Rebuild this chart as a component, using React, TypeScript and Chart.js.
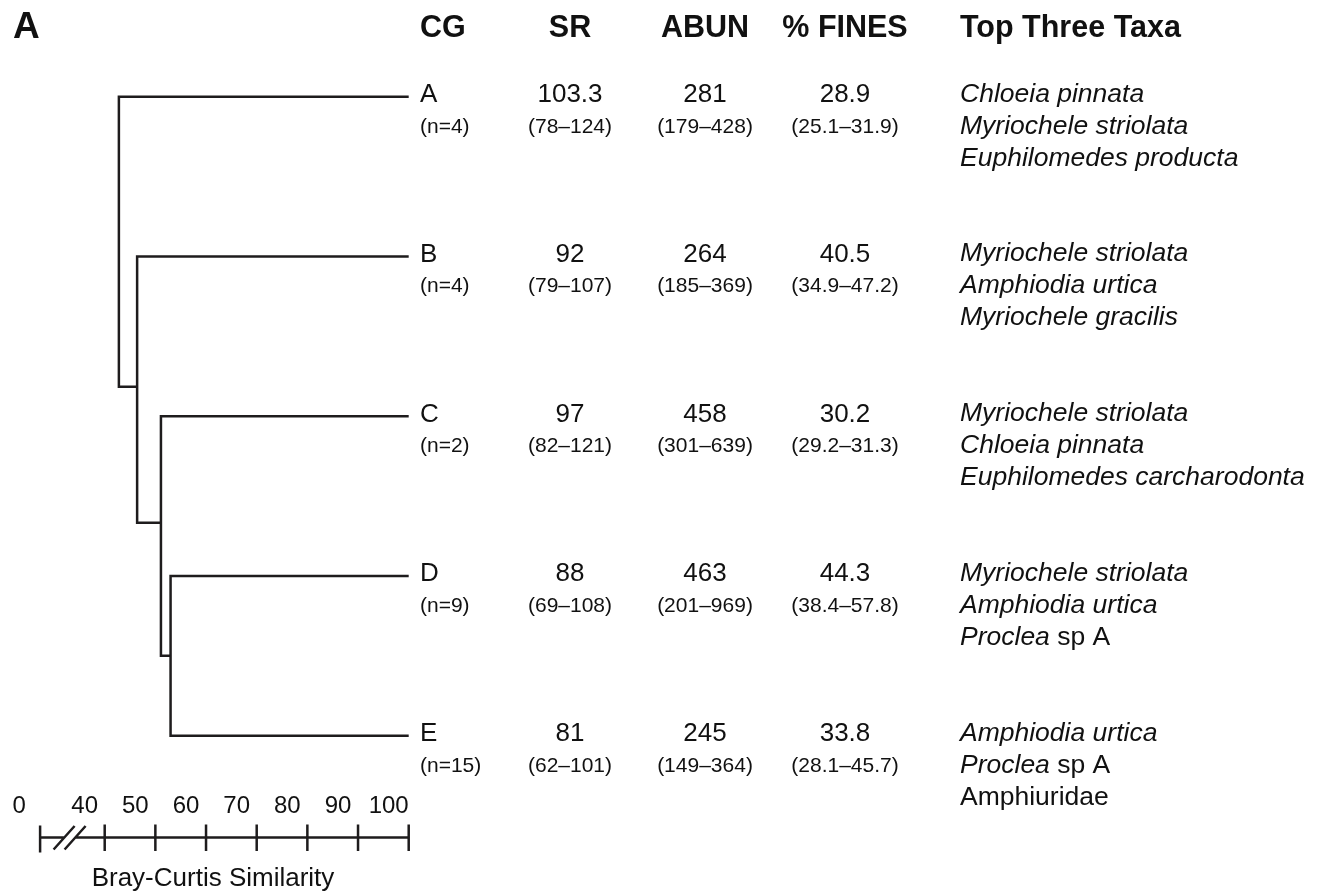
import { useEffect, useRef } from 'react';
import { Chart, registerables } from 'chart.js';

Chart.register(...registerables);

// ---- Cluster groups (CG) and their summary statistics ----
const groups = ['A', 'B', 'C', 'D', 'E'];
const groupSize = [4, 4, 2, 9, 15];

const srMean = [103.3, 92, 97, 88, 81];
const srMin = [78, 79, 82, 69, 62];
const srMax = [124, 107, 121, 108, 101];

const abunMean = [281, 264, 458, 463, 245];
const abunMin = [179, 185, 301, 201, 149];
const abunMax = [428, 369, 639, 969, 364];

const finesMean = [28.9, 40.5, 30.2, 44.3, 33.8];
const finesMin = [25.1, 34.9, 29.2, 38.4, 28.1];
const finesMax = [31.9, 47.2, 31.3, 57.8, 45.7];

// Each taxon is a list of [text, italic] pieces
type Piece = [string, boolean];
const topTaxa: Piece[][][] = [
  [[['Chloeia pinnata', true]], [['Myriochele striolata', true]], [['Euphilomedes producta', true]]],
  [[['Myriochele striolata', true]], [['Amphiodia urtica', true]], [['Myriochele gracilis', true]]],
  [[['Myriochele striolata', true]], [['Chloeia pinnata', true]], [['Euphilomedes carcharodonta', true]]],
  [[['Myriochele striolata', true]], [['Amphiodia urtica', true]], [['Proclea', true], [' sp A', false]]],
  [[['Amphiodia urtica', true]], [['Proclea', true], [' sp A', false]], [['Amphiuridae', false]]],
];

const headers = ['CG', 'SR', 'ABUN', '% FINES', 'Top Three Taxa'];

// ---- Dendrogram (Bray-Curtis similarity, %) ----
const mergeLeft = ['D', 'C', 'B', 'A'];
const mergeRight = ['E', 'DE', 'CDE', 'BCDE'];
const mergeSimilarity = [53.0, 51.1, 46.4, 42.8];
// row at which each merged branch is drawn (leaves sit on rows 0..4)
const mergeRow = [3.5, 2.667, 1.815, 1.0];

// ---- Similarity axis (broken between 0 and 40) ----
const axisTicks = [40, 50, 60, 70, 80, 90, 100];
const axisOriginLabel = '0';
const axisOriginPos = 27.25; // where the broken axis starts
const axisTitle = 'Bray-Curtis Similarity';

const FONT = '"Liberation Sans", Arial, Helvetica, sans-serif';
const INK = '#111111';
const LINE = '#1e1c1d';

type Node = { sim: number; row: number };

function buildNodes() {
  const nodes: Record<string, Node> = {};
  groups.forEach((g, i) => (nodes[g] = { sim: 100, row: i }));
  mergeLeft.forEach((l, i) => {
    const id = l + mergeRight[i];
    nodes[id] = { sim: mergeSimilarity[i], row: mergeRow[i] };
  });
  return nodes;
}

function buildDatasets() {
  const nodes = buildNodes();
  return mergeLeft.map((l, i) => {
    const a = nodes[l];
    const b = nodes[mergeRight[i]];
    const s = mergeSimilarity[i];
    return {
      label: l + mergeRight[i],
      data: [
        { x: a.sim, y: a.row },
        { x: s, y: a.row },
        { x: s, y: b.row },
        { x: b.sim, y: b.row },
      ],
      showLine: true,
      borderColor: LINE,
      borderWidth: 2.5,
      pointRadius: 0,
      tension: 0,
      clip: false as const,
      borderJoinStyle: 'miter' as const,
    };
  });
}

const tablePlugin = {
  id: 'clusterTable',
  afterDatasetsDraw(chart: any) {
    const ctx: CanvasRenderingContext2D = chart.ctx;
    const xs = chart.scales.x;
    const ys = chart.scales.y;
    ctx.save();
    ctx.fillStyle = INK;
    ctx.textBaseline = 'alphabetic';

    // panel letter
    ctx.font = `bold 37px ${FONT}`;
    ctx.textAlign = 'left';
    ctx.fillText('A', 13, 38);

    // column headers
    const colCG = 420;
    const colSR = 570;
    const colAB = 705;
    const colFN = 845;
    const colTX = 960;
    ctx.font = `bold 30.5px ${FONT}`;
    ctx.textAlign = 'left';
    ctx.fillText(headers[0], colCG, 37);
    ctx.textAlign = 'center';
    ctx.fillText(headers[1], colSR, 37);
    ctx.fillText(headers[2], colAB, 37);
    ctx.fillText(headers[3], colFN, 37);
    ctx.textAlign = 'left';
    ctx.fillText(headers[4], colTX, 37);

    groups.forEach((g, i) => {
      const y = ys.getPixelForValue(i);
      const y1 = y + 5.5;
      const y2 = y + 36;

      ctx.font = `26px ${FONT}`;
      ctx.textAlign = 'left';
      ctx.fillText(g, colCG, y1);
      ctx.textAlign = 'center';
      ctx.fillText(String(srMean[i]), colSR, y1);
      ctx.fillText(String(abunMean[i]), colAB, y1);
      ctx.fillText(finesMean[i].toFixed(1), colFN, y1);

      ctx.font = `21px ${FONT}`;
      ctx.textAlign = 'left';
      ctx.fillText(`(n=${groupSize[i]})`, colCG, y2);
      ctx.textAlign = 'center';
      ctx.fillText(`(${srMin[i]}–${srMax[i]})`, colSR, y2);
      ctx.fillText(`(${abunMin[i]}–${abunMax[i]})`, colAB, y2);
      ctx.fillText(`(${finesMin[i].toFixed(1)}–${finesMax[i].toFixed(1)})`, colFN, y2);

      ctx.textAlign = 'left';
      topTaxa[i].forEach((taxon, k) => {
        let x = colTX;
        const ty = y + 5 + k * 32;
        taxon.forEach(([text, italic]) => {
          ctx.font = `${italic ? 'italic ' : ''}26.5px ${FONT}`;
          ctx.fillText(text, x, ty);
          x += ctx.measureText(text).width;
        });
      });
    });

    // broken similarity axis
    const axisY = 837.5;
    const tickTop = axisY - 13;
    const tickBot = axisY + 13.5;
    const x0 = xs.getPixelForValue(axisOriginPos);
    const xEnd = xs.getPixelForValue(axisTicks[axisTicks.length - 1]);
    const brk1 = x0 + 24;
    const brk2 = x0 + 35;
    ctx.strokeStyle = LINE;
    ctx.lineWidth = 2.5;
    ctx.lineCap = 'butt';
    ctx.beginPath();
    ctx.moveTo(x0, axisY);
    ctx.lineTo(brk1, axisY);
    ctx.moveTo(brk2, axisY);
    ctx.lineTo(xEnd, axisY);
    // origin tick
    ctx.moveTo(x0, tickTop + 1);
    ctx.lineTo(x0, tickBot + 1.5);
    axisTicks.forEach((t) => {
      const px = xs.getPixelForValue(t);
      ctx.moveTo(px, tickTop);
      ctx.lineTo(px, tickBot);
    });
    // break marks
    [brk1, brk2].forEach((bx) => {
      ctx.moveTo(bx - 10.5, axisY + 12);
      ctx.lineTo(bx + 10.5, axisY - 11.5);
    });
    ctx.stroke();

    ctx.fillStyle = INK;
    ctx.font = `24px ${FONT}`;
    ctx.textAlign = 'center';
    const labelY = 813;
    ctx.fillText(axisOriginLabel, x0 - 21, labelY);
    axisTicks.forEach((t) => {
      ctx.fillText(String(t), xs.getPixelForValue(t) - 20, labelY);
    });

    ctx.font = `26px ${FONT}`;
    ctx.fillText(axisTitle, 213, 886);
    ctx.restore();
  },
};

export default function App() {
  const canvasRef = useRef<HTMLCanvasElement | null>(null);

  useEffect(() => {
    const canvas = canvasRef.current;
    if (!canvas) return;
    const W = 1321;
    const H = 893;
    // x: similarity 20..100 ; value 40 at 104.7px, 100 at 408.7px
    const pxPerUnit = (408.7 - 104.7) / 60;
    const left = 104.7 - 20 * pxPerUnit;
    const right = W - 408.7;
    const chart = new Chart(canvas, {
      type: 'scatter',
      data: { datasets: buildDatasets() as any },
      options: {
        animation: false,
        responsive: false,
        devicePixelRatio: 1,
        events: [],
        layout: { padding: { left, right, top: 96.7, bottom: H - 735.7 } },
        scales: {
          x: { type: 'linear', min: 20, max: 100, display: false },
          y: { type: 'linear', min: 0, max: 4, reverse: true, display: false },
        },
        plugins: {
          legend: { display: false },
          tooltip: { enabled: false },
        },
      },
      plugins: [tablePlugin],
    });
    return () => chart.destroy();
  }, []);

  return (
    <div style={{ position: 'absolute', left: 0, top: 0, width: 1321, height: 893, background: '#ffffff' }}>
      <canvas ref={canvasRef} width={1321} height={893} style={{ display: 'block' }} />
    </div>
  );
}
